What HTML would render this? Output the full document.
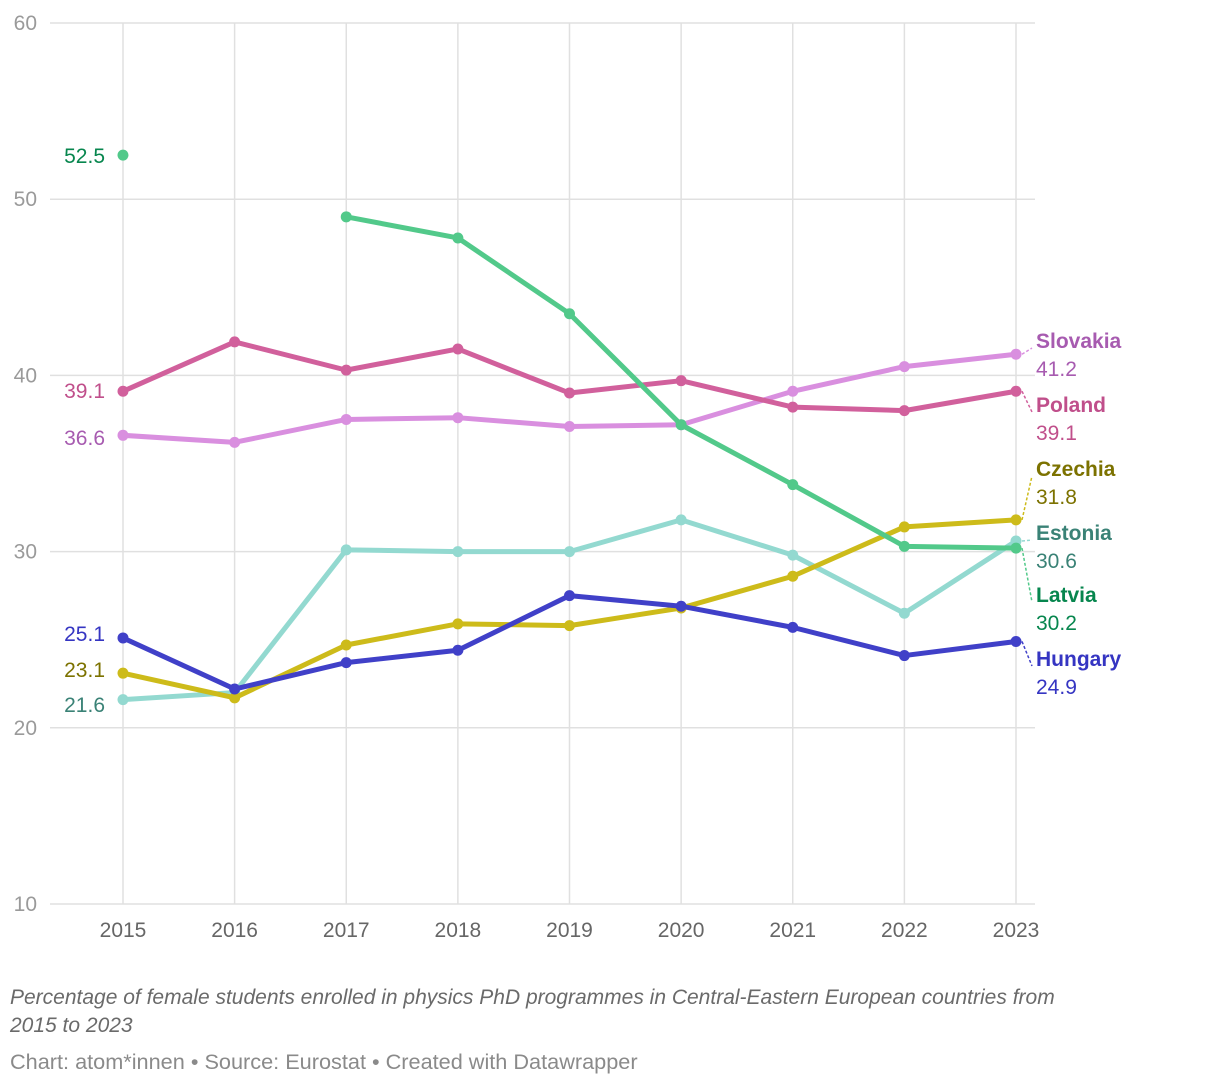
<!DOCTYPE html>
<html><head><meta charset="utf-8"><style>
body{margin:0;background:#fff;width:1220px;height:1086px;overflow:hidden;font-family:"Liberation Sans",sans-serif}
svg text{font-family:"Liberation Sans",sans-serif}
</style></head><body>
<svg id="chart" width="1220" height="1086" xmlns="http://www.w3.org/2000/svg"></svg>
<script>
const years=[2015,2016,2017,2018,2019,2020,2021,2022,2023];
const yTicks=[10,20,30,40,50,60];
const slovakia=[36.6,36.2,37.5,37.6,37.1,37.2,39.1,40.5,41.2];
const poland=[39.1,41.9,40.3,41.5,39.0,39.7,38.2,38.0,39.1];
const latvia=[52.5,null,49.0,47.8,43.5,37.2,33.8,30.3,30.2];
const estonia=[21.6,22.0,30.1,30.0,30.0,31.8,29.8,26.5,30.6];
const czechia=[23.1,21.7,24.7,25.9,25.8,26.8,28.6,31.4,31.8];
const hungary=[25.1,22.2,23.7,24.4,27.5,26.9,25.7,24.1,24.9];
const series=[
 {name:"Estonia",vals:estonia,c:"#93d9d0",t:"#3a8276",leftY:704,ry:532},
 {name:"Czechia",vals:czechia,c:"#cdbb1a",t:"#7c7200",leftY:669,ry:468},
 {name:"Hungary",vals:hungary,c:"#4040c8",t:"#3535c2",leftY:633,ry:658},
 {name:"Slovakia",vals:slovakia,c:"#d98fdf",t:"#a75bb0",leftY:437,ry:340},
 {name:"Poland",vals:poland,c:"#d1609c",t:"#c04f8b",leftY:390,ry:404},
 {name:"Latvia",vals:latvia,c:"#52c98a",t:"#07864e",leftY:155,ry:594}
];
const NS="http://www.w3.org/2000/svg";
const svg=document.getElementById('chart');
const x=i=>123+i*(1016-123)/(years.length-1);
const y=v=>904-(v-10)*(881/50);
function el(tag,a,p){const e=document.createElementNS(NS,tag);for(const k in a)e.setAttribute(k,a[k]);(p||svg).appendChild(e);return e;}
yTicks.forEach(t=>{
 const l=el('line',{x1:50,x2:1035,y1:y(t),y2:y(t),stroke:'#e0e0e0','stroke-width':1.5});
 
 
 const tx=el('text',{x:37,y:y(t)+7,'text-anchor':'end','font-size':21,fill:'#9a9a9a'});tx.textContent=t;
 
 
});
years.forEach((yr,i)=>{
 const l=el('line',{x1:x(i),x2:x(i),y1:y(60),y2:y(10),stroke:'#e0e0e0','stroke-width':1.5});
 
 
 const tx=el('text',{x:x(i),y:937,'text-anchor':'middle','font-size':21,fill:'#666'});tx.textContent=yr;
 
 
});
series.forEach(s=>{
 const g=el('g',{});
 
 
 let d='',pen=false;
 s.vals.forEach((v,i)=>{if(v==null){pen=false;return;}d+=(pen?'L':'M')+x(i)+','+y(v);pen=true;});
 el('path',{d:d,fill:'none',stroke:s.c,'stroke-width':5,'stroke-linejoin':'round'},g);
 s.vals.forEach((v,i)=>{if(v==null)return;const c=el('circle',{cx:x(i),cy:y(v),r:5.5,fill:s.c},g);
  
  });
 const last=s.vals[s.vals.length-1];
 el('line',{x1:x(8)+6,y1:y(last),x2:1032,y2:s.ry+8,stroke:s.c,'stroke-width':1.5,'stroke-dasharray':'3,2'},g);
 const n=el('text',{x:1036,y:s.ry+8,'font-size':21,'font-weight':'bold',fill:s.t},g);n.textContent=s.name;
 
 
 const vt=el('text',{x:1036,y:s.ry+36,'font-size':21,fill:s.t},g);vt.textContent=last.toFixed(1);
 
 
 const lt=el('text',{x:105,y:s.leftY+8,'text-anchor':'end','font-size':21,fill:s.t},g);lt.textContent=s.vals[0].toFixed(1);
 
 
});
</script>
<div style="position:absolute;left:10px;top:984px;width:1070px;font-size:21px;font-style:italic;color:#6a6a6a;line-height:28px">Percentage of female students enrolled in physics PhD programmes in Central-Eastern European countries from 2015 to 2023</div>
<div style="position:absolute;left:10px;top:1049px;font-size:21.7px;color:#8a8a8a">Chart: atom*innen • Source: Eurostat • Created with Datawrapper</div>
</body></html>
